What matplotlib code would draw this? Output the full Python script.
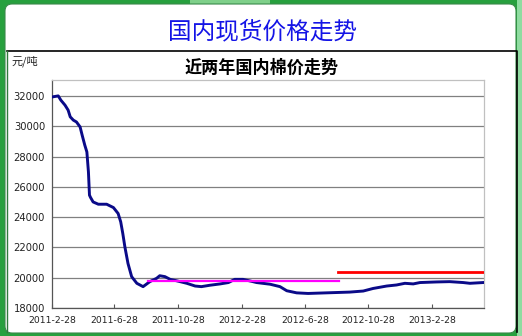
"""Domestic cotton spot price trend, last two years."""

import matplotlib
matplotlib.use("Agg")
import matplotlib.pyplot as plt
import matplotlib.dates as mdates
import pandas as pd
from matplotlib.patches import FancyBboxPatch, Rectangle

plt.rcParams["font.family"] = ["Noto Sans CJK SC", "DejaVu Sans"]

# daily index, sampled at turning points (yuan / tonne)
price_dates = [
    "2011-02-28", "2011-03-12", "2011-03-17", "2011-03-25", "2011-03-31",
    "2011-04-04", "2011-04-10", "2011-04-16", "2011-04-23", "2011-04-27",
    "2011-05-02", "2011-05-06", "2011-05-09", "2011-05-11", "2011-05-13",
    "2011-05-18", "2011-05-28", "2011-06-13", "2011-06-26", "2011-07-05",
    "2011-07-10", "2011-07-14", "2011-07-18", "2011-07-24", "2011-07-31",
    "2011-08-10", "2011-08-22", "2011-09-04", "2011-09-17", "2011-09-23",
    "2011-10-03", "2011-10-13", "2011-10-25", "2011-11-14", "2011-11-30",
    "2011-12-12", "2011-12-28", "2012-01-17", "2012-02-02", "2012-02-14",
    "2012-03-01", "2012-03-20", "2012-03-27", "2012-04-22", "2012-05-11",
    "2012-05-24", "2012-06-12", "2012-07-04", "2012-08-08", "2012-09-22",
    "2012-10-18", "2012-11-06", "2012-12-02", "2012-12-21", "2013-01-06",
    "2013-01-22", "2013-02-04", "2013-03-08", "2013-04-02", "2013-04-28",
    "2013-05-11", "2013-06-05",
]
price_values = [
    31930, 32000, 31720, 31390, 31060,
    30620, 30400, 30280, 29950, 29400,
    28750, 28300, 26980, 25450, 25300,
    25000, 24850, 24850, 24630, 24240,
    23690, 22920, 22040, 20940, 20070,
    19630, 19410, 19740, 19960, 20130,
    20070, 19890, 19800, 19630, 19450,
    19410, 19500, 19590, 19680, 19890,
    19890, 19740, 19680, 19570, 19410,
    19140, 19000, 18960, 19000, 19050,
    19120, 19290, 19450, 19520, 19630,
    19590, 19680, 19720, 19740, 19680,
    19630, 19680,
]

# state reserve purchase prices
reserve_2011_dates = ["2011-08-31", "2012-09-01"]
reserve_2011_value = 19800
reserve_2012_dates = ["2012-08-30", "2013-06-07"]
reserve_2012_value = 20400

xtick_labels = ["2011-2-28", "2011-6-28", "2011-10-28", "2012-2-28",
                "2012-6-28", "2012-10-28", "2013-2-28"]
yticks = [18000, 20000, 22000, 24000, 26000, 28000, 30000, 32000]

W, H = 522, 336
fig = plt.figure(figsize=(W / 100, H / 100), dpi=100)
fig.patch.set_facecolor("#27a03e")

# page frame drawn in pixel units
bg = fig.add_axes([0, 0, 1, 1], zorder=0)
bg.set_xlim(0, W)
bg.set_ylim(H, 0)
bg.axis("off")
bg.add_patch(Rectangle((190, 0), 80, 4, facecolor="#7fd08a", edgecolor="none"))
bg.add_patch(Rectangle((517, 0), 5, H, facecolor="#8fdca0", edgecolor="none"))
bg.add_patch(FancyBboxPatch((5, 4), 511, 329,
                            boxstyle="round,pad=0,rounding_size=7",
                            facecolor="white", edgecolor="#3a8a4a", lw=0.8))
bg.plot([7, 517, 517], [51, 51, 332], color="black", lw=1.2)
bg.plot([7, 7], [51, 332], color="#2f7a3c", lw=1.0)

bg.text(262, 32, "国内现货价格走势", color="#1414e6", fontsize=17,
        ha="center", va="center")
bg.text(262, 68, "近两年国内棉价走势", color="black", fontsize=12.3,
        fontweight="bold", ha="center", va="center")
bg.text(12, 61, "元/吨", color="#222222", fontsize=8, ha="left", va="center")

ax = fig.add_axes([52 / W, 1 - 308 / H, (484 - 52) / W, (308 - 80) / H], zorder=1)
ax.patch.set_alpha(0)

x = pd.to_datetime(price_dates)
ax.plot(x, price_values, color="#0a0a88", lw=2.1, solid_joinstyle="round", zorder=3)
ax.plot(pd.to_datetime(reserve_2011_dates), [reserve_2011_value] * 2,
        color="#ff00ff", lw=1.6, zorder=4)
ax.plot(pd.to_datetime(reserve_2012_dates), [reserve_2012_value] * 2,
        color="#ff0000", lw=2.0, zorder=4)

ax.set_xlim(pd.Timestamp("2011-02-28"), pd.Timestamp("2013-06-07"))
ax.set_ylim(18000, 33050)

tick_pos = mdates.date2num(pd.to_datetime(xtick_labels, format="%Y-%m-%d"))
ax.set_xticks(tick_pos)
ax.set_xticklabels(xtick_labels, fontsize=6.7, family="DejaVu Sans", color="#222222")
ax.set_yticks(yticks)
ax.set_yticklabels([str(v) for v in yticks], fontsize=7.2, family="DejaVu Sans",
                   color="#222222")
ax.tick_params(axis="x", direction="in", length=3, width=0.8, color="#555555", pad=6)
ax.tick_params(axis="y", length=0, pad=5)

ax.grid(axis="y", color="#808080", lw=0.9)
ax.set_axisbelow(True)
for side in ("left", "bottom"):
    ax.spines[side].set_color("#555555")
    ax.spines[side].set_linewidth(0.9)
for side in ("top", "right"):
    ax.spines[side].set_color("#c0c0c0")
    ax.spines[side].set_linewidth(0.9)

fig.savefig("out.png", dpi=100, facecolor=fig.get_facecolor())
